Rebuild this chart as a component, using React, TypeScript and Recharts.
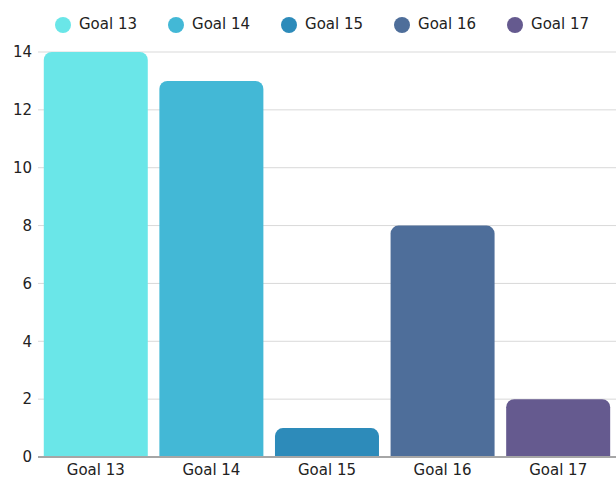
import React from 'react';
import { BarChart, Bar, XAxis, YAxis, CartesianGrid, Legend } from 'recharts';

const categories = ['Goal 13', 'Goal 14', 'Goal 15', 'Goal 16', 'Goal 17'];
const values = [14, 13, 1, 8, 2];
const colors = ['#6ae6e8', '#43b8d6', '#2d8bba', '#4e6e9a', '#655a8f'];
const yTicks = [0, 2, 4, 6, 8, 10, 12, 14];

const data = categories.map((c, i) => {
  const row: Record<string, any> = { name: c };
  categories.forEach((s, j) => {
    row[s] = i === j ? values[i] : null;
  });
  return row;
});

const font = 'DejaVu Sans';

export default function App() {
  return (
    <div style={{ position: 'absolute', left: 0, top: 0, fontFamily: font }}>
      <BarChart
        width={616}
        height={478}
        data={data}
        margin={{ top: 8, right: 0, left: 0, bottom: 0 }}
        barCategoryGap="5%"
      >
        <CartesianGrid vertical={false} stroke="#d9d9d9" />
        <Legend
          verticalAlign="top"
          align="left"
          iconType="circle"
          iconSize={16}
          height={44}
          wrapperStyle={{ fontSize: 15, color: '#222', top: 15, left: 55, width: 600, whiteSpace: 'nowrap' }}
          formatter={(v: string) => (
            <span style={{ color: '#222', marginLeft: 4, marginRight: 21 }}>{v}</span>
          )}
        />
        <XAxis
          dataKey="name"
          tickLine={false}
          tickSize={0}
          axisLine={{ stroke: '#a6a6a6', strokeWidth: 2 }}
          tick={{ fill: '#222', fontSize: 15, fontFamily: font }}
          height={21}
          tickMargin={7}
        />
        <YAxis
          domain={[0, 14]}
          ticks={yTicks}
          width={38}
          tickLine={false}
          tickSize={0}
          axisLine={false}
          tick={{ fill: '#222', fontSize: 15, fontFamily: font }}
          tickMargin={6}
        />
        {categories.map((c, i) => (
          <Bar
            key={c}
            dataKey={c}
            stackId="a"
            fill={colors[i]}
            radius={[8, 8, 0, 0]}
            isAnimationActive={false}
            legendType="circle"
          />
        ))}
      </BarChart>
    </div>
  );
}
